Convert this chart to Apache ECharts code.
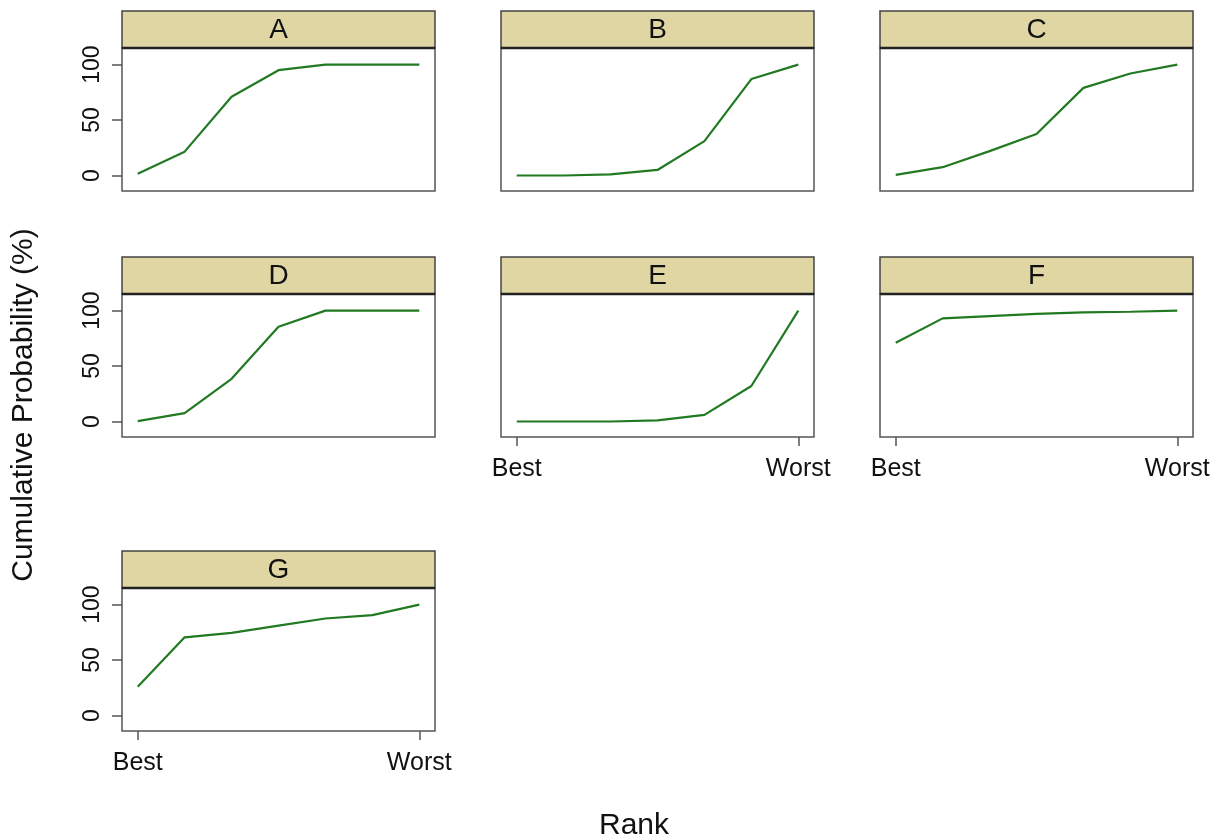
<!DOCTYPE html>
<html>
<head>
<meta charset="utf-8">
<title>Cumulative rank probabilities</title>
<script src="https://cdn.jsdelivr.net/npm/echarts@6/dist/echarts.min.js"></script>
<style>
  html, body { margin: 0; padding: 0; background: #fff; }
  #chart { width: 1216px; height: 840px; }
</style>
</head>
<body>
<div id="chart"></div>
<script>
// data
const ranks = [1, 2, 3, 4, 5, 6, 7];
const panelNames = ['A', 'B', 'C', 'D', 'E', 'F', 'G'];
const valuesA = [1.5, 21.5, 71, 95, 100, 100, 100];
const valuesB = [0, 0, 1, 5, 31, 87, 100];
const valuesC = [0.6, 7.5, 22, 37.5, 79, 92, 100];
const valuesD = [0.3, 7.5, 38.5, 85.5, 100, 100, 100];
const valuesE = [0, 0, 0, 1, 6, 32, 100];
const valuesF = [71, 93, 95, 97, 98.5, 99, 100];
const valuesG = [26, 70.5, 74.5, 81, 87.5, 90.5, 100];
const yTickValues = [0, 50, 100];
const xTickValues = [1, 7];
const xTickLabels = ['Best', 'Worst'];

const panelValues = [valuesA, valuesB, valuesC, valuesD, valuesE, valuesF, valuesG];

// layout (pixels)
const colLeft = [122, 501, 880];
const rowTop = [48, 294, 588];
const plotW = 313;
const plotH = 143;
const stripH = 37;
const showYAxis = [true, false, false, true, false, false, true];
const showXAxis = [false, false, false, false, true, true, true];

const FONT = '"Liberation Sans", Arial, sans-serif';
const lineColor = '#217a21';
const boxColor = '#555';
const stripColor = '#e0d6a3';

const grids = [], xAxes = [], yAxes = [], series = [], graphics = [];

panelNames.forEach(function (name, i) {
  const left = colLeft[i % 3];
  const top = rowTop[Math.floor(i / 3)];

  grids.push({
    left: left, top: top, width: plotW, height: plotH,
    show: true, backgroundColor: '#fff',
    borderColor: boxColor, borderWidth: 1.5
  });

  xAxes.push({
    gridIndex: i, type: 'value', position: 'bottom',
    min: 1 - 0.335, max: 7 + 0.335,
    axisLine: { show: false, onZero: false },
    splitLine: { show: false },
    axisTick: {
      show: showXAxis[i], length: 9, customValues: xTickValues,
      lineStyle: { color: boxColor, width: 1.5 }
    },
    axisLabel: {
      show: showXAxis[i], customValues: xTickValues,
      margin: 20, fontSize: 25, fontFamily: FONT, color: '#111',
      formatter: function (v) { return xTickLabels[xTickValues.indexOf(v)]; }
    }
  });

  yAxes.push({
    gridIndex: i, type: 'value', position: 'left',
    min: -14, max: 115,
    axisLine: { show: false, onZero: false },
    splitLine: { show: false },
    axisTick: {
      show: showYAxis[i], length: 10, customValues: yTickValues,
      lineStyle: { color: boxColor, width: 1.5 }
    },
    axisLabel: {
      show: showYAxis[i], customValues: yTickValues, rotate: 90,
      margin: 18, fontSize: 23, fontFamily: FONT, color: '#111'
    }
  });

  series.push({
    type: 'line', xAxisIndex: i, yAxisIndex: i,
    data: ranks.map(function (r, k) { return [r, panelValues[i][k]]; }),
    symbol: 'none', silent: true,
    lineStyle: { color: lineColor, width: 2.2 }
  });

  // strip header above each panel
  graphics.push({
    type: 'rect',
    shape: { x: left, y: top - stripH, width: plotW, height: stripH },
    style: { fill: stripColor, stroke: '#444', lineWidth: 1.5 }
  });
  graphics.push({
    type: 'line',
    shape: { x1: left, y1: top, x2: left + plotW, y2: top },
    style: { stroke: '#222', lineWidth: 2.5 }
  });
  graphics.push({
    type: 'text',
    x: left + plotW / 2, y: top - stripH / 2 + 1,
    style: {
      text: name, fontSize: 28, fontFamily: FONT, fill: '#111',
      align: 'center', verticalAlign: 'middle'
    }
  });
});

// outer axis titles
graphics.push({
  type: 'text', x: 24, y: 405, rotation: Math.PI / 2,
  style: {
    text: 'Cumulative Probability (%)', fontSize: 30, fontFamily: FONT,
    fill: '#111', align: 'center', verticalAlign: 'middle'
  }
});
graphics.push({
  type: 'text', x: 634, y: 826,
  style: {
    text: 'Rank', fontSize: 30, fontFamily: FONT,
    fill: '#111', align: 'center', verticalAlign: 'middle'
  }
});

const myChart = echarts.init(document.getElementById('chart'), null, { renderer: 'canvas' });
myChart.setOption({
  animation: false,
  backgroundColor: '#fff',
  grid: grids,
  xAxis: xAxes,
  yAxis: yAxes,
  series: series,
  graphic: graphics
});
</script>
</body>
</html>
